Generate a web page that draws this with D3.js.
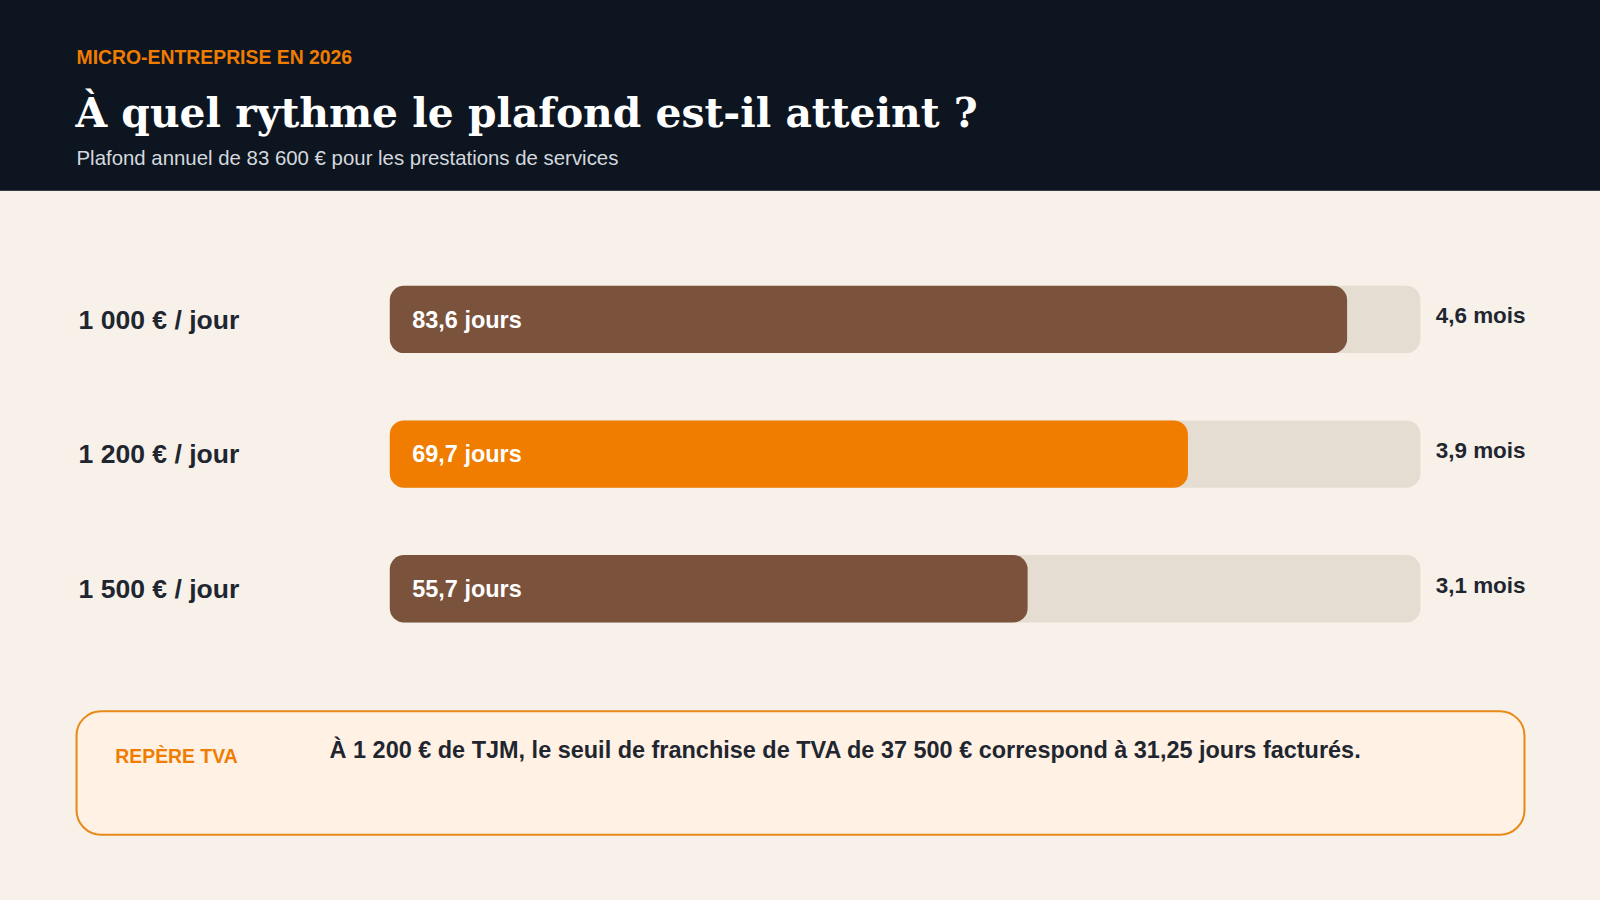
<!DOCTYPE html>
<html><head><meta charset="utf-8">
<script src="https://cdn.jsdelivr.net/npm/d3@7"></script>
<style>html,body{margin:0;padding:0;background:#f7f1ea;}</style>
</head><body>
<svg id="chart" width="1600" height="900" viewBox="0 0 1568 882"></svg>
<script>
var rates = ["1 000 € / jour", "1 200 € / jour", "1 500 € / jour"];
var days = [83.6, 69.7, 55.7];
var dayLabels = ["83,6 jours", "69,7 jours", "55,7 jours"];
var months = ["4,6 mois", "3,9 mois", "3,1 mois"];
var colors = ["#7b533d", "#f07c00", "#7b533d"];

var svg = d3.select("#chart");
var sans = "Liberation Sans, Arial, sans-serif";

svg.append("rect").attr("width", 1568).attr("height", 882).attr("fill", "#f7f1ea");
svg.append("rect").attr("width", 1568).attr("height", 187).attr("fill", "#0d1620");
svg.append("text").attr("x", 75).attr("y", 63).attr("fill", "#f07c00")
    .attr("font-family", sans).attr("font-weight", "bold").attr("font-size", 19)
    .text("MICRO-ENTREPRISE EN 2026");
svg.append("text").attr("x", 74).attr("y", 124).attr("fill", "#fff")
    .attr("font-family", "DejaVu Serif, Georgia, serif").attr("font-weight", "bold").attr("font-size", 40)
    .text("À quel rythme le plafond est-il atteint ?");
svg.append("text").attr("x", 75).attr("y", 162).attr("fill", "#d4d8de")
    .attr("font-family", sans).attr("font-size", 20)
    .text("Plafond annuel de 83 600 € pour les prestations de services");

var x = d3.scaleLinear().domain([0, 90]).range([382, 1392]);
var y = d3.scaleBand().domain(rates).range([247, 643]).paddingInner(0.5).paddingOuter(0.25);

var row = svg.selectAll(".row").data(rates).enter().append("g")
    .attr("transform", function(d) { return "translate(0," + y(d) + ")"; });
var h = y.bandwidth();

row.append("rect").attr("x", x(0)).attr("width", x(90) - x(0)).attr("height", h)
    .attr("rx", 14).attr("fill", "#e5ddd2");
row.append("rect").attr("x", x(0)).attr("width", function(d, i) { return x(days[i]) - x(0); })
    .attr("height", h).attr("rx", 14).attr("fill", function(d, i) { return colors[i]; });
row.append("text").attr("x", 77).attr("y", h / 2 + 9).attr("fill", "#1f2630")
    .attr("font-family", sans).attr("font-weight", "bold").attr("font-size", 26)
    .text(function(d) { return d; });
row.append("text").attr("x", 404).attr("y", h / 2 + 8).attr("fill", "#fff")
    .attr("font-family", sans).attr("font-weight", "bold").attr("font-size", 23)
    .text(function(d, i) { return dayLabels[i]; });
row.append("text").attr("x", 1407).attr("y", h / 2 + 4).attr("fill", "#1f2630")
    .attr("font-family", sans).attr("font-weight", "bold").attr("font-size", 22)
    .text(function(d, i) { return months[i]; });

svg.append("rect").attr("x", 75).attr("y", 697).attr("width", 1419).attr("height", 121)
    .attr("rx", 24).attr("fill", "#fff1e3").attr("stroke", "#e88a1a").attr("stroke-width", 2);
svg.append("text").attr("x", 113).attr("y", 748).attr("fill", "#f07c00")
    .attr("font-family", sans).attr("font-weight", "bold").attr("font-size", 19)
    .text("REPÈRE TVA");
svg.append("text").attr("x", 323).attr("y", 743).attr("fill", "#1f2630")
    .attr("font-family", sans).attr("font-weight", "bold").attr("font-size", 23)
    .text("À 1 200 € de TJM, le seuil de franchise de TVA de 37 500 € correspond à 31,25 jours facturés.");
</script>
</body></html>
